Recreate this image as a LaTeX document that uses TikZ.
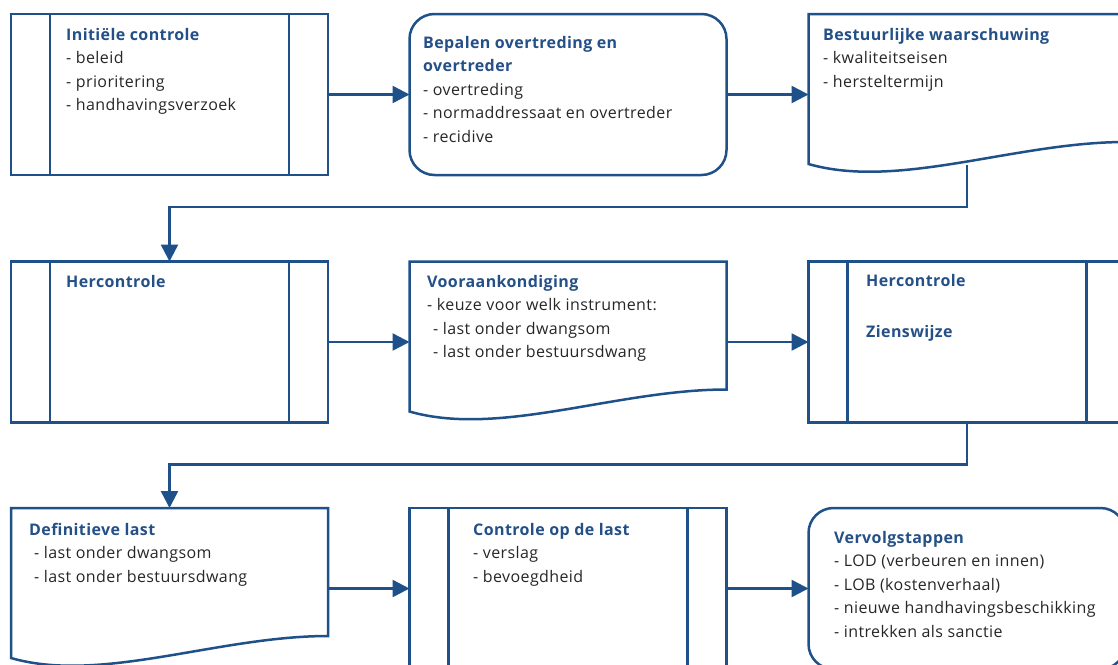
\documentclass[tikz,border=0pt]{standalone}
\usepackage{fontspec}
\setmainfont{Open Sans}[LetterSpace=2.5]
\usetikzlibrary{arrows.meta, calc, positioning}
\definecolor{flowblue}{RGB}{30,80,138}
\definecolor{titleblue}{RGB}{36,80,135}
\definecolor{bodygray}{RGB}{38,38,38}
\newcommand{\stagetitle}[1]{\textcolor{titleblue}{\bfseries #1}}

\begin{document}
\begin{tikzpicture}[x=1pt, y=1pt,% styles used in image code
        > = {Triangle[length=17pt, width=17pt]},
  box/.style = {minimum width=317pt, minimum height=161pt,
                inner sep=0pt, outer sep=0pt},
 proc/.style = {box, draw=flowblue, line width=2.5pt},
round/.style = {proc, rounded corners=25pt},
 line/.style = {draw=flowblue, line width=2.5pt},
 flow/.style = {line, ->},
  txt/.style = {anchor=north west, inner sep=0pt, align=left,
                text=bodygray, font=\fontsize{16}{23.5}\selectfont}
                    ]
	\useasboundingbox (0,0) rectangle (1118,-664);
	\clip (0,0) rectangle (1118,-664);
	
	% 1st row
	\node[proc]  (init)      at (169.5,-94.5) {};
	\node[round] (determine) at (568,-94.5)   {};
	\node[box]   (warn)      at (967,-94.5)   {};
	
	% 2nd row
	\node[proc]  (recheck)   at (169.5,-342)  {};
	\node[box]   (notice)    at (568,-342)    {};
	\node[proc]  (review)    at (967,-342)    {};
	
	% 3rd row
	\node[box]   (final)     at (169.5,-588.5) {};
	\node[proc]  (inspect)   at (568,-588.5)   {};
	\node[round] (follow)    at (967,-588.5)   {};
	
	% side bars of the process boxes
	\foreach \b in {init,recheck,review,inspect} {
		\draw[line] ([xshift=39pt]\b.north west)  -- ([xshift=39pt]\b.south west);
		\draw[line] ([xshift=-39pt]\b.north east) -- ([xshift=-39pt]\b.south east);
	}
	
	% document boxes with wavy bottom
	\foreach \d in {warn,notice,final}
		\draw[line] ([yshift=11pt]\d.south west) -- (\d.north west) -- (\d.north east)
		      -- ([yshift=33pt]\d.south east)
		      .. controls ([xshift=-110pt,yshift=33pt]\d.south east)
		              and ([xshift=90pt,yshift=-15pt]\d.south west)
		      .. ([yshift=11pt]\d.south west) -- cycle;
	
	% connectors
	\draw[flow] (init)    -- (determine);
	\draw[flow] (determine) -- (warn);
	\draw[flow] (recheck) -- (notice);
	\draw[flow] (notice)  -- (review);
	\draw[flow] (final)   -- (inspect);
	\draw[flow] (inspect) -- (follow);
	
	\coordinate (warnout) at ([yshift=10pt]warn.south);
	\coordinate (turn1)   at ([yshift=-42pt]warnout);
	\draw[flow] (warnout) -- (turn1) -| (recheck);
	
	\coordinate (turn2)   at ([yshift=-42pt]review.south);
	\draw[flow] (review.south) -- (turn2) -| (final);
	
	% texts
	\node[txt] (initText) at (66,-28)
		{\stagetitle{Initiële controle}\\- beleid\\- prioritering\\- handhavingsverzoek};
	\node[txt] (determineText) at (423,-36)
		{\stagetitle{Bepalen overtreding en}\\\stagetitle{overtreder}\\- overtreding\\
		 - normaddressaat en overtreder\\- recidive};
	\node[txt] (warnText) at (823,-28)
		{\stagetitle{Bestuurlijke waarschuwing}\\- kwaliteitseisen\\- hersteltermijn};
	\node[txt] (recheckText) at (66,-275)
		{\stagetitle{Hercontrole}};
	\node[txt] (noticeText) at (427,-275)
		{\stagetitle{Vooraankondiging}\\- keuze voor welk instrument:\\
		 \hspace*{6pt}- last onder dwangsom\\\hspace*{6pt}- last onder bestuursdwang};
	\node[txt] (reviewText) at (866,-274)
		{\stagetitle{Hercontrole}\\[27.5pt]\stagetitle{Zienswijze}};
	\node[txt] (finalText) at (29,-523)
		{\stagetitle{Definitieve last}\\\hspace*{5pt}- last onder dwangsom\\
		 \hspace*{5pt}- last onder bestuursdwang};
	\node[txt] (inspectText) at (473,-523)
		{\stagetitle{Controle op de last}\\- verslag\\- bevoegdheid};
	\node[txt] (followText) at (834,-531)
		{\stagetitle{Vervolgstappen}\\- LOD (verbeuren en innen)\\- LOB (kostenverhaal)\\
		 - nieuwe handhavingsbeschikking\\- intrekken als sanctie};
\end{tikzpicture}
\end{document}
